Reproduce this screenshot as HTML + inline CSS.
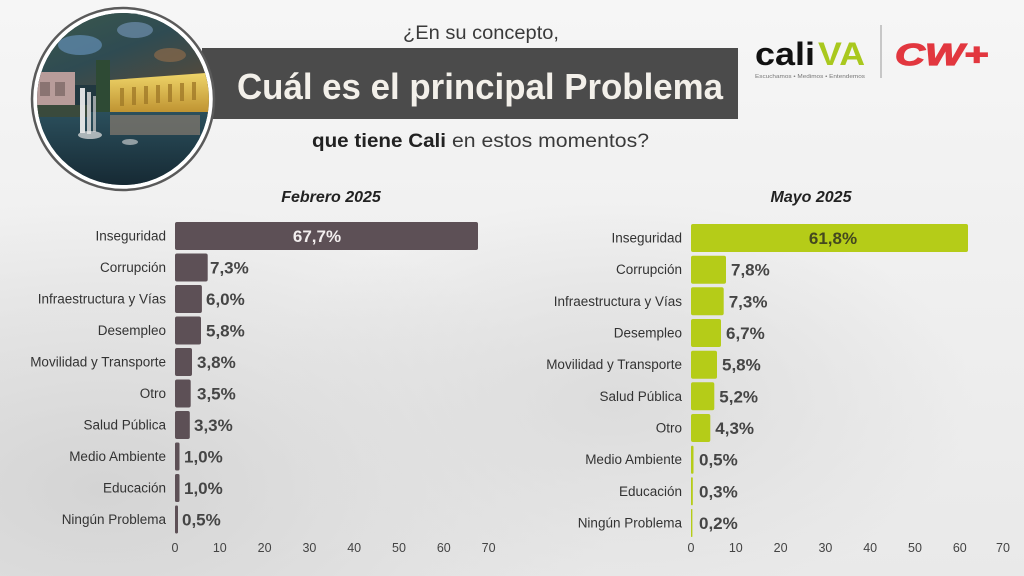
<!DOCTYPE html>
<html>
<head>
<meta charset="utf-8">
<style>
html,body{margin:0;padding:0;background:#eeeeee;}
svg{display:block;}
text{font-family:"Liberation Sans",Arial,sans-serif;}
</style>
</head>
<body>
<svg width="1024" height="576" viewBox="0 0 1024 576" xmlns="http://www.w3.org/2000/svg">
<defs>
  <radialGradient id="bg1" cx="0.1" cy="0.85" r="0.5">
    <stop offset="0" stop-color="#d4d4d4"/>
    <stop offset="1" stop-color="#d4d4d4" stop-opacity="0"/>
  </radialGradient>
  <radialGradient id="bg2" cx="0.6" cy="0.7" r="0.35">
    <stop offset="0" stop-color="#dcdcdc"/>
    <stop offset="1" stop-color="#dcdcdc" stop-opacity="0"/>
  </radialGradient>
  <linearGradient id="bgtop" x1="0" y1="0" x2="0" y2="1">
    <stop offset="0" stop-color="#f6f6f6"/>
    <stop offset="0.35" stop-color="#f1f1f1"/>
    <stop offset="1" stop-color="#e9e9e9"/>
  </linearGradient>
  <clipPath id="circ"><circle cx="123" cy="99" r="86"/></clipPath>
  <linearGradient id="water" x1="0" y1="0" x2="0" y2="1">
    <stop offset="0" stop-color="#2b4f5c"/>
    <stop offset="1" stop-color="#142630"/>
  </linearGradient>
  <linearGradient id="canopy" x1="0" y1="0" x2="1" y2="1">
    <stop offset="0" stop-color="#3c5a4c"/>
    <stop offset="0.5" stop-color="#2f4b52"/>
    <stop offset="1" stop-color="#5a4a38"/>
  </linearGradient>
  <linearGradient id="bldg" x1="0" y1="0" x2="0" y2="1">
    <stop offset="0" stop-color="#f0d66a"/>
    <stop offset="1" stop-color="#b88a2a"/>
  </linearGradient>
</defs>

<!-- background -->
<rect x="0" y="0" width="1024" height="576" fill="url(#bgtop)"/>
<rect x="0" y="0" width="1024" height="576" fill="url(#bg1)"/>
<rect x="0" y="0" width="1024" height="576" fill="url(#bg2)"/>

<!-- title bar -->
<rect x="202" y="48" width="536" height="71" fill="#4b4b4b"/>

<!-- photo circle -->
<circle cx="123" cy="99" r="91" fill="#ffffff" stroke="#5a5a5a" stroke-width="2.5"/>
<g clip-path="url(#circ)">
  <rect x="30" y="10" width="190" height="180" fill="#213840"/>
  <rect x="30" y="10" width="190" height="75" fill="url(#canopy)"/>
  <ellipse cx="80" cy="45" rx="22" ry="10" fill="#5d86a8" opacity="0.8"/>
  <ellipse cx="135" cy="30" rx="18" ry="8" fill="#6e8fae" opacity="0.7"/>
  <ellipse cx="170" cy="55" rx="16" ry="7" fill="#8a6a4a" opacity="0.7"/>
  <rect x="30" y="72" width="45" height="40" fill="#b89c9a"/>
  <rect x="40" y="82" width="10" height="14" fill="#8a7472"/>
  <rect x="55" y="82" width="10" height="14" fill="#8a7472"/>
  <polygon points="110,80 220,72 220,118 110,116" fill="url(#bldg)"/>
  <g fill="#a07a28" opacity="0.8">
    <rect x="120" y="88" width="4" height="18"/><rect x="132" y="87" width="4" height="18"/>
    <rect x="144" y="86" width="4" height="18"/><rect x="156" y="85" width="4" height="18"/>
    <rect x="168" y="84" width="4" height="18"/><rect x="180" y="83" width="4" height="18"/>
    <rect x="192" y="82" width="4" height="18"/>
  </g>
  <rect x="96" y="60" width="14" height="60" fill="#2e4a34"/>
  <rect x="30" y="112" width="190" height="80" fill="url(#water)"/>
  <rect x="30" y="105" width="60" height="12" fill="#3a4a3c"/>
  <rect x="110" y="115" width="90" height="20" fill="#7a746c" opacity="0.8"/>
  <rect x="80" y="88" width="5" height="45" fill="#f2f2f2" opacity="0.9"/>
  <rect x="87" y="92" width="4" height="42" fill="#dcdcdc" opacity="0.85"/>
  <rect x="93" y="96" width="3" height="36" fill="#cfcfcf" opacity="0.7"/>
  <ellipse cx="90" cy="135" rx="12" ry="4" fill="#e6e6e6" opacity="0.7"/>
  <ellipse cx="130" cy="142" rx="8" ry="3" fill="#dddddd" opacity="0.6"/>
</g>

<!-- titles -->
<text x="403" y="39" font-size="19" fill="#3a3a3a" textLength="156" lengthAdjust="spacingAndGlyphs">¿En su concepto,</text>
<text x="237" y="99" font-size="36" font-weight="bold" fill="#f3f0ea" textLength="486" lengthAdjust="spacingAndGlyphs">Cuál es el principal Problema</text>
<text x="312" y="147" font-size="19" font-weight="bold" fill="#222" textLength="134" lengthAdjust="spacingAndGlyphs">que tiene Cali</text>
<text x="452" y="147" font-size="19" fill="#3a3a3a" textLength="197" lengthAdjust="spacingAndGlyphs">en estos momentos?</text>

<!-- logos -->
<text x="755" y="65" font-size="32" font-weight="bold" fill="#111" textLength="60" lengthAdjust="spacingAndGlyphs">cali</text>
<text x="818" y="65" font-size="32" font-weight="bold" fill="#a9c81e" textLength="47" lengthAdjust="spacingAndGlyphs">VA</text>
<text x="755" y="78" font-size="5.5" fill="#777" textLength="110" lengthAdjust="spacingAndGlyphs">Escuchamos • Medimos • Entendemos</text>
<line x1="881" y1="25" x2="881" y2="78" stroke="#999" stroke-width="1"/>
<text x="895" y="65" font-size="31" font-weight="bold" font-style="italic" fill="#e2373f" stroke="#e2373f" stroke-width="1.2" textLength="93" lengthAdjust="spacingAndGlyphs">CW+</text>

<!-- chart titles -->
<text x="331" y="202" font-size="16" font-weight="bold" font-style="italic" fill="#222" text-anchor="middle">Febrero 2025</text>
<text x="811" y="202" font-size="16" font-weight="bold" font-style="italic" fill="#222" text-anchor="middle">Mayo 2025</text>

<!-- LEFT CHART -->
<g fill="#5d5056">
  <rect x="175" y="222" width="303" height="28" rx="2"/>
  <rect x="175" y="253.5" width="32.7" height="28" rx="2"/>
  <rect x="175" y="285" width="26.9" height="28" rx="2"/>
  <rect x="175" y="316.5" width="26" height="28" rx="2"/>
  <rect x="175" y="348" width="17" height="28" rx="2"/>
  <rect x="175" y="379.5" width="15.7" height="28" rx="2"/>
  <rect x="175" y="411" width="14.8" height="28" rx="2"/>
  <rect x="175" y="442.5" width="4.5" height="28" rx="1.5"/>
  <rect x="175" y="474" width="4.5" height="28" rx="1.5"/>
  <rect x="175" y="505.5" width="3" height="28" rx="1.2"/>
</g>
<g font-size="13.5" fill="#333" text-anchor="end">
  <text x="166" y="240.5">Inseguridad</text>
  <text x="166" y="272">Corrupción</text>
  <text x="166" y="303.5">Infraestructura y Vías</text>
  <text x="166" y="335">Desempleo</text>
  <text x="166" y="366.5">Movilidad y Transporte</text>
  <text x="166" y="398">Otro</text>
  <text x="166" y="429.5">Salud Pública</text>
  <text x="166" y="461">Medio Ambiente</text>
  <text x="166" y="492.5">Educación</text>
  <text x="166" y="524">Ningún Problema</text>
</g>
<text x="317" y="242" font-size="17" font-weight="bold" fill="#f2eeee" text-anchor="middle">67,7%</text>
<g font-size="17" font-weight="bold" fill="#454545">
  <text x="210" y="273.5">7,3%</text>
  <text x="206" y="305">6,0%</text>
  <text x="206" y="336.5">5,8%</text>
  <text x="197" y="368">3,8%</text>
  <text x="197" y="399.5">3,5%</text>
  <text x="194" y="431">3,3%</text>
  <text x="184" y="462.5">1,0%</text>
  <text x="184" y="494">1,0%</text>
  <text x="182" y="525.5">0,5%</text>
</g>
<g font-size="12.5" fill="#444" text-anchor="middle">
  <text x="175" y="552">0</text>
  <text x="219.8" y="552">10</text>
  <text x="264.6" y="552">20</text>
  <text x="309.4" y="552">30</text>
  <text x="354.2" y="552">40</text>
  <text x="399" y="552">50</text>
  <text x="443.8" y="552">60</text>
  <text x="488.6" y="552">70</text>
</g>

<!-- RIGHT CHART -->
<g fill="#b5cc18">
  <rect x="691" y="224" width="277" height="28" rx="2"/>
  <rect x="691" y="255.7" width="35" height="28" rx="2"/>
  <rect x="691" y="287.3" width="32.7" height="28" rx="2"/>
  <rect x="691" y="319" width="30" height="28" rx="2"/>
  <rect x="691" y="350.7" width="26" height="28" rx="2"/>
  <rect x="691" y="382.3" width="23.3" height="28" rx="2"/>
  <rect x="691" y="414" width="19.3" height="28" rx="2"/>
  <rect x="691" y="445.7" width="2.5" height="28" rx="1"/>
  <rect x="691" y="477.3" width="1.8" height="28" rx="0.8"/>
  <rect x="691" y="509" width="1.4" height="28" rx="0.6"/>
</g>
<g font-size="13.5" fill="#333" text-anchor="end">
  <text x="682" y="242.5">Inseguridad</text>
  <text x="682" y="274.2">Corrupción</text>
  <text x="682" y="305.8">Infraestructura y Vías</text>
  <text x="682" y="337.5">Desempleo</text>
  <text x="682" y="369.2">Movilidad y Transporte</text>
  <text x="682" y="400.8">Salud Pública</text>
  <text x="682" y="432.5">Otro</text>
  <text x="682" y="464.2">Medio Ambiente</text>
  <text x="682" y="495.8">Educación</text>
  <text x="682" y="527.5">Ningún Problema</text>
</g>
<text x="833" y="244" font-size="17" font-weight="bold" fill="#44481f" text-anchor="middle">61,8%</text>
<g font-size="17" font-weight="bold" fill="#454545">
  <text x="731" y="275.7">7,8%</text>
  <text x="728.7" y="307.3">7,3%</text>
  <text x="726" y="339">6,7%</text>
  <text x="722" y="370.7">5,8%</text>
  <text x="719.3" y="402.3">5,2%</text>
  <text x="715.3" y="434">4,3%</text>
  <text x="699" y="465.7">0,5%</text>
  <text x="699" y="497.3">0,3%</text>
  <text x="699" y="529">0,2%</text>
</g>
<g font-size="12.5" fill="#444" text-anchor="middle">
  <text x="691" y="552">0</text>
  <text x="735.8" y="552">10</text>
  <text x="780.6" y="552">20</text>
  <text x="825.4" y="552">30</text>
  <text x="870.2" y="552">40</text>
  <text x="915" y="552">50</text>
  <text x="959.8" y="552">60</text>
  <text x="1003" y="552">70</text>
</g>
</svg>
</body>
</html>
